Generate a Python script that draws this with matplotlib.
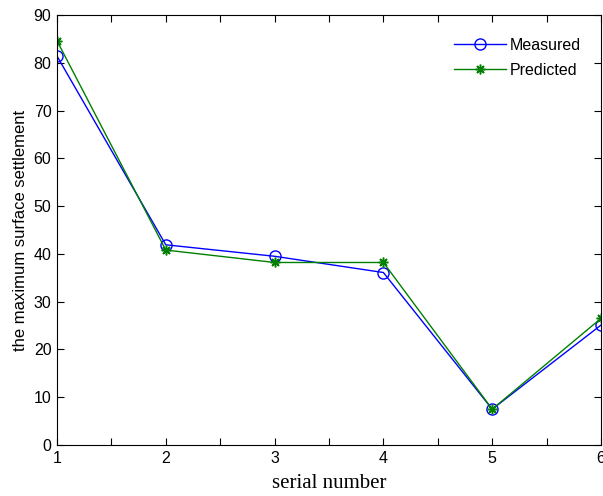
import matplotlib
matplotlib.use('Agg')
import matplotlib.pyplot as plt
import numpy as np

serial = [1, 2, 3, 4, 5, 6]
measured = [81.4, 41.9, 39.5, 36.1, 7.5, 25.1]
predicted = [84.6, 40.8, 38.2, 38.2, 7.5, 26.5]

plt.rcParams['font.family'] = ['Liberation Sans', 'DejaVu Sans']

fig = plt.figure(figsize=(6.03, 4.96), dpi=100)
ax = fig.add_axes([57/603, 51/496, 544/603, 430/496])

ax.plot(serial, measured, color='blue', marker='o', markersize=8, markerfacecolor='none',
        markeredgewidth=1, linewidth=1, label='Measured')
ax.plot(serial, predicted, color='green', marker=(8, 2, 0), markersize=7,
        markeredgewidth=1.1, linewidth=1, label='Predicted')

ax.set_xlim(1, 6)
ax.set_ylim(0, 90)
xt = np.arange(1, 6.01, 0.5)
ax.set_xticks(xt)
ax.set_xticklabels([str(int(v)) if v == int(v) else '' for v in xt])
ax.set_yticks(range(0, 91, 10))
ax.tick_params(direction='in', top=True, right=True, labelsize=11.5, length=5, pad=4)

ax.set_xlabel('serial number', family='Liberation Serif', fontsize=15, labelpad=6)
ax.set_ylabel('the maximum surface settlement', fontsize=12, labelpad=4)

ax.legend(loc='upper right', frameon=False, fontsize=11.5, handlelength=3.2,
          handletextpad=0.25, bbox_to_anchor=(0.989, 0.98), labelspacing=0.6)

fig.savefig('out.png', dpi=100)
